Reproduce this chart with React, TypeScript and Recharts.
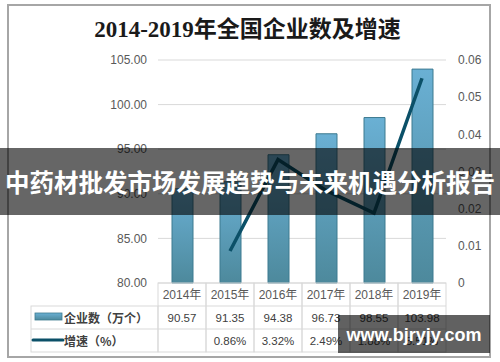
import { ComposedChart, Bar, Line, XAxis, YAxis, CartesianGrid } from 'recharts';

const years = ['2014年', '2015年', '2016年', '2017年', '2018年', '2019年'];
const companies = [90.57, 91.35, 94.38, 96.73, 98.55, 103.98];
const growth = [null, 0.0086, 0.0332, 0.0249, 0.0188, 0.0551];
const growthLabels = ['', '0.86%', '3.32%', '2.49%', '1.88%', '5.51%'];
const leftTicks = [80, 85, 90, 95, 100, 105];
const rightTicks = [0, 0.01, 0.02, 0.03, 0.04, 0.05, 0.06];

const data = years.map((year, i) => ({ year, companies: companies[i], growth: growth[i] }));

const GRID = '#d9d9d9';
const TEXT = '#404040';
const LINE = '#0b5068';
const CJK = '"Liberation Sans", "Noto Sans CJK SC", sans-serif';

function TableTick(props: any) {
  const { x, y, index, width } = props;
  const colW = (width || 288) / years.length;
  const left = x - colW / 2;
  const rows = [23, 23, 23];
  const r1 = y + rows[0];
  const r2 = r1 + rows[1];
  const r3 = r2 + rows[2];
  return (
    <g fontFamily={CJK} fontSize={12} fill={TEXT}>
      <rect x={left} y={y} width={colW} height={r3 - y} fill="none" stroke={GRID} />
      <line x1={left} x2={left + colW} y1={r1} y2={r1} stroke={GRID} />
      <line x1={left} x2={left + colW} y1={r2} y2={r2} stroke={GRID} />
      <text x={x} y={y + 12} textAnchor="middle" dominantBaseline="central" fill="#595959">{years[index]}</text>
      <text x={x} y={r1 + 11.5} textAnchor="middle" dominantBaseline="central" fontSize={11.5}>{companies[index].toFixed(2)}</text>
      <text x={x} y={r2 + 11.5} textAnchor="middle" dominantBaseline="central" fontSize={11.5}>{growthLabels[index]}</text>
      {index === 0 && (
        <g>
          <rect x={31} y={r1} width={left - 31} height={r3 - r1} fill="none" stroke={GRID} />
          <line x1={31} x2={left} y1={r2} y2={r2} stroke={GRID} />
          <rect x={35} y={r1 + 7} width={27} height={7} fill="url(#barGrad)" stroke="#3d7a90" strokeWidth={0.8} />
          <text x={64} y={r1 + 11} dominantBaseline="central" fontWeight="bold" fontFamily='"Noto Sans CJK SC", sans-serif'>企业数（万个）</text>
          <line x1={33} x2={63} y1={r2 + 11} y2={r2 + 11} stroke={LINE} strokeWidth={3} strokeLinecap="round" />
          <text x={64} y={r2 + 11} dominantBaseline="central" fontWeight="bold" fontFamily='"Noto Sans CJK SC", sans-serif'>增速（%）</text>
        </g>
      )}
    </g>
  );
}

export default function App() {
  return (
    <div style={{ position: 'absolute', left: 0, top: 0, width: 500, height: 362, background: 'white', overflow: 'hidden' }}>
      <div style={{
        position: 'absolute', left: 7, top: 4, width: 484, height: 354,
        border: '2px solid #a6a6a6', boxSizing: 'border-box',
      }} />
      <div style={{
        position: 'absolute', left: 0, top: 14, width: 495, textAlign: 'center',
        fontFamily: '"Liberation Serif", "Noto Sans CJK SC", serif', fontWeight: 'bold',
        fontSize: 23, color: '#1a1a1a', lineHeight: '32px',
      }}>
        2014-2019年全国企业数及增速
      </div>
      <div style={{ position: 'absolute', left: 0, top: 0 }}>
        <ComposedChart width={500} height={362} data={data}
          margin={{ top: 60, right: 4, bottom: 4, left: 98 }} barSize={21}>
          <defs>
            <linearGradient id="barGrad" x1="0" y1="0" x2="0" y2="1">
              <stop offset="0%" stopColor="#6ab0d4" />
              <stop offset="100%" stopColor="#4d899c" />
            </linearGradient>
          </defs>
          <CartesianGrid vertical={false} stroke={GRID} yAxisId="left" />
          <XAxis dataKey="year" height={75} axisLine={false} tickLine={false}
            tickSize={0} tickMargin={0} interval={0} tick={<TableTick />} />
          <YAxis yAxisId="left" orientation="left" width={60} domain={[80, 105]}
            ticks={leftTicks} axisLine={false} tickLine={false} tickMargin={5}
            tickFormatter={(v: number) => v.toFixed(2)}
            tick={{ fontSize: 12, fill: '#595959', fontFamily: 'Liberation Sans' }} />
          <YAxis yAxisId="right" orientation="right" width={50} domain={[0, 0.06]}
            ticks={rightTicks} axisLine={false} tickLine={false} tickMargin={6}
            tickFormatter={(v: number) => (v === 0 ? '0' : v.toFixed(2))}
            tick={{ fontSize: 12, fill: '#595959', fontFamily: 'Liberation Sans' }} />
          <Bar yAxisId="left" dataKey="companies" fill="url(#barGrad)" stroke="#3d7a90"
            strokeWidth={1} isAnimationActive={false} />
          <Line yAxisId="right" dataKey="growth" type="linear" stroke={LINE} strokeWidth={3.5}
            dot={false} connectNulls isAnimationActive={false} />
        </ComposedChart>
      </div>
      <div style={{
        position: 'absolute', left: 0, top: 148, width: 500, height: 67,
        background: 'rgba(0,0,0,0.6)', color: 'white', textAlign: 'center',
        fontFamily: '"Noto Sans CJK SC", sans-serif', fontWeight: 'bold', fontSize: 24.5,
        lineHeight: '67px', whiteSpace: 'nowrap',
      }}>
        中药材批发市场发展趋势与未来机遇分析报告
      </div>
      <div style={{
        position: 'absolute', left: 338, top: 315, width: 152, height: 38,
        background: 'rgba(0,0,0,0.62)', color: 'white', textAlign: 'center',
        fontFamily: '"Liberation Sans", sans-serif', fontWeight: 'bold', fontSize: 18,
        lineHeight: '40px', whiteSpace: 'nowrap',
      }}>
        www.bjryjy.com
      </div>
    </div>
  );
}
